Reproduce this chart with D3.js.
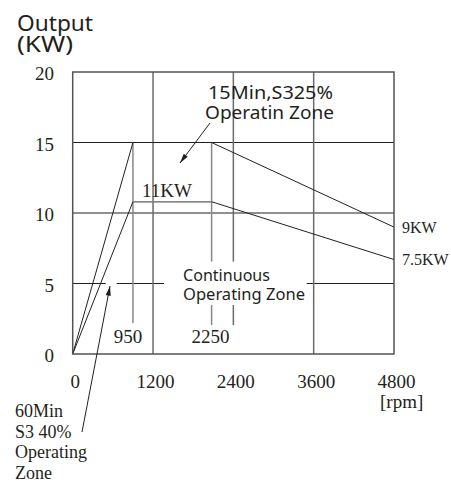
<!DOCTYPE html>
<html><head><meta charset="utf-8">
<script src="https://cdn.jsdelivr.net/npm/d3@7"></script>
<style>body{margin:0;background:#fff}svg{display:block}</style>
</head><body>
<svg id="c" width="451" height="482"></svg>
<script>
// ---- data ----
const xTicks = [0, 1200, 2400, 3600, 4800];
const yTicks = [0, 5, 10, 15, 20];
// 15 min S3 25% curve (rpm, kW)
const curve15Rpm = [0, 900, 2075, 4800];
const curve15Kw  = [0, 15, 15, 9];
// 60 min S3 40% curve (rpm, kW)
const curve60Rpm = [0, 900, 2075, 4800];
const curve60Kw  = [0, 10.8, 10.8, 6.7];
// marker lines (rpm) and their labels
const markRpm = [900, 2075];
const markLabels = ["950", "2250"];
// curve end labels
const endLabels = ["11KW", "9KW", "7.5KW"];

const svg = d3.select("#c");
const x = d3.scaleLinear().domain([0, 4800]).range([72.7, 394]);
const y = d3.scaleLinear().domain([0, 20]).range([354, 72]);
const ink = "#231f20";
const serif = "'Liberation Serif','DejaVu Serif',serif";
const sans = "'Noto Sans','Open Sans',sans-serif";

function seg(x1, y1, x2, y2, col, w) {
  svg.append("line").attr("x1", x(x1)).attr("y1", y(y1)).attr("x2", x(x2)).attr("y2", y(y2))
    .attr("stroke", col).attr("stroke-width", w);
}
// horizontal grid
seg(0, 10, 4800, 10, ink, 1);
seg(0, 15, 4800, 15, ink, 1);
// 5 kW broken line
[[0, 493], [657, 1364], [3496, 4800]].forEach(s => seg(s[0], 5, s[1], 5, ink, 1));
// vertical grid
seg(1200, 0, 1200, 20, "#6d6a6b", 1.5);
seg(3600, 0, 3600, 20, "#6d6a6b", 1.5);
seg(2400, 20, 2400, 6.55, "#6d6a6b", 1.5);
seg(2400, 3.47, 2400, 2.05, "#6d6a6b", 1.5);
// marker lines
seg(markRpm[0], 15, markRpm[0], 2.2, "#8a8788", 1.5);
seg(markRpm[1], 15, markRpm[1], 6.55, "#8a8788", 1.5);
seg(markRpm[1], 3.47, markRpm[1], 2.05, "#8a8788", 1.5);

// curves
const line = d3.line().x(d => x(d[0])).y(d => y(d[1]));
const c15 = curve15Rpm.map((r, i) => [r, curve15Kw[i]]);
const c60 = curve60Rpm.map((r, i) => [r, curve60Kw[i]]);
svg.append("path").attr("d", line(c15)).attr("fill", "none").attr("stroke", ink).attr("stroke-width", 1);
svg.append("path").attr("d", line(c60)).attr("fill", "none").attr("stroke", ink).attr("stroke-width", 1);
// flat part of 60 min appears grey
seg(curve60Rpm[1], curve60Kw[1], curve60Rpm[2], curve60Kw[2], "#8a8788", 1.5);

// frame
svg.append("rect").attr("x", x(0)).attr("y", y(20)).attr("width", x(4800) - x(0)).attr("height", y(0) - y(20))
  .attr("fill", "none").attr("stroke", "#555253").attr("stroke-width", 1.5);

// axes labels
const yAxis = d3.axisLeft(y).tickValues(yTicks).tickSize(0).tickPadding(0);
const gy = svg.append("g").attr("transform", "translate(54,0)").call(yAxis);
gy.select(".domain").remove();
gy.selectAll("text").attr("font-family", serif).attr("font-size", 19).attr("fill", ink).attr("dy", "0.36em")
  .attr("transform", "translate(0,1)");
const xAxis = d3.axisBottom(x).tickValues(xTicks).tickSize(0).tickPadding(0).tickFormat(d3.format("d"));
const gx = svg.append("g").attr("transform", "translate(2,0)").call(xAxis);
gx.select(".domain").remove();
gx.selectAll("text").attr("font-family", serif).attr("font-size", 19).attr("fill", ink).attr("dy", null).attr("y", 388);

function txt(t, px, py, size, fam, anchor, len) {
  const s = svg.append("text").attr("x", px).attr("y", py).attr("font-size", size).attr("font-family", fam)
    .attr("fill", ink).attr("text-anchor", anchor || "start").text(t);
  if (len) s.attr("textLength", len).attr("lengthAdjust", "spacingAndGlyphs");
  return s;
}
txt("Output", 17, 31, 22, sans, "start", 76);
txt("(KW)", 17, 52, 22, sans, "start", 56);
txt("[rpm]", 380, 408, 19, serif);
txt(markLabels[0], x(markRpm[0]) - 5, 343, 19, serif, "middle");
txt(markLabels[1], x(markRpm[1]) - 1, 343, 19, serif, "middle");
txt(endLabels[0], 142, 197, 19, serif);
txt(endLabels[1], 402, 233, 16, serif);
txt(endLabels[2], 402, 265, 16, serif);
txt("15Min,S325%", 208, 99, 18.5, sans, "start", 125);
txt("Operatin Zone", 205, 119, 18.5, sans, "start", 129);
txt("Continuous", 183, 281, 16.5, sans, "start", 87);
txt("Operating Zone", 183, 300, 16.5, sans, "start", 122);
["60Min", "S3 40%", "Operating", "Zone"].forEach((t, i) => txt(t, 15, 417 + i * 20.5, 18, serif));

// arrows
const defs = svg.append("defs");
defs.append("marker").attr("id", "ah").attr("viewBox", "0 0 12 10").attr("refX", 12).attr("refY", 5)
  .attr("markerWidth", 12).attr("markerHeight", 8).attr("markerUnits", "userSpaceOnUse").attr("orient", "auto")
  .append("path").attr("d", "M0,1.8 L12,5 L0,8.2 Z").attr("fill", ink);
svg.append("line").attr("x1", 210).attr("y1", 123).attr("x2", 180).attr("y2", 163)
  .attr("stroke", ink).attr("stroke-width", 1).attr("marker-end", "url(#ah)");
svg.append("line").attr("x1", 82).attr("y1", 432).attr("x2", 110).attr("y2", 286)
  .attr("stroke", ink).attr("stroke-width", 1).attr("marker-end", "url(#ah)");
</script>
</body></html>
